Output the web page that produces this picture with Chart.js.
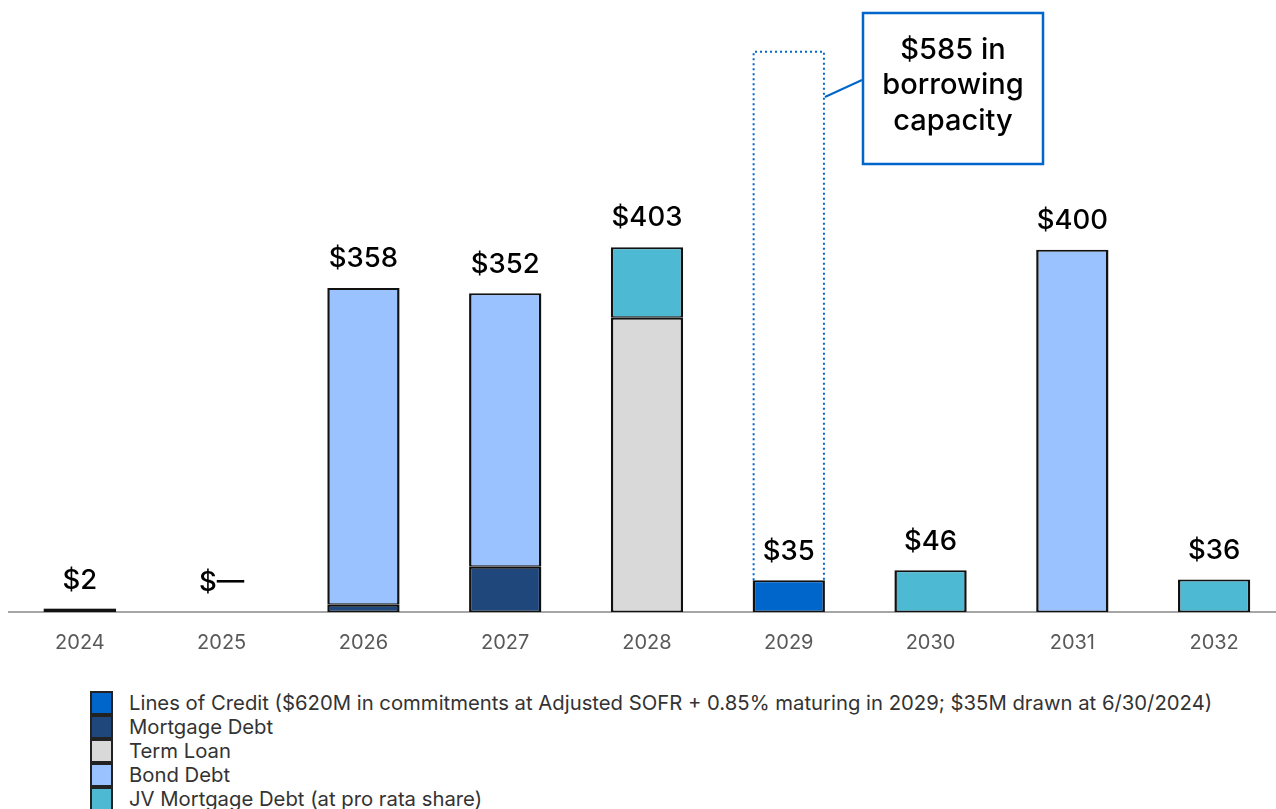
<!DOCTYPE html>
<html>
<head>
<meta charset="utf-8">
<script src="https://cdn.jsdelivr.net/npm/chart.js@4.4.1/dist/chart.umd.min.js"></script>
<style>
  html, body { margin:0; padding:0; background:#fff; overflow:hidden; }
  body { width:1276px; height:809px; position:relative; font-family:Inter, "Open Sans", sans-serif; }
  #wrap { position:absolute; left:0; top:0; width:1286px; height:680px; }
  #legend { position:absolute; left:90px; top:691px; margin:0; padding:0; list-style:none; }
  #legend li { height:24px; line-height:24px; font-size:20.3px; color:#333; position:relative; padding-left:39px; white-space:nowrap; }
  #legend li span { position:absolute; left:0; top:0; width:19px; height:20px; border:2px solid #222; }
</style>
</head>
<body>
<div id="wrap"><canvas id="chart" width="1286" height="680"></canvas></div>
<ul id="legend"></ul>
<script>
// categories
const years = ['2024','2025','2026','2027','2028','2029','2030','2031','2032'];
// series values ($M)
const linesOfCredit = [0, 0, 0, 0, 0, 35, 0, 0, 0];
const mortgageDebt  = [2, 0, 8, 50, 0, 0, 0, 0, 0];
const termLoan      = [0, 0, 0, 0, 325, 0, 0, 0, 0];
const bondDebt      = [0, 0, 350, 302, 0, 0, 0, 400, 0];
const jvMortgage    = [0, 0, 0, 0, 78, 0, 46, 0, 36];
const capacity      = [0, 0, 0, 0, 0, 585, 0, 0, 0];
// total labels shown above each bar
const totalLabels = ['$2', '$\u2014', '$358', '$352', '$403', '$35', '$46', '$400', '$36'];

const seriesNames = [
    'Lines of Credit ($620M in commitments at Adjusted SOFR + 0.85% maturing in 2029; $35M drawn at 6/30/2024)',
    'Mortgage Debt',
    'Term Loan',
    'Bond Debt',
    'JV Mortgage Debt (at pro rata share)'
];
const seriesColors = ['#0066cc', '#1f477b', '#d9d9d9', '#99c2ff', '#4db9d3'];
const seriesData = [linesOfCredit, mortgageDebt, termLoan, bondDebt, jvMortgage];

const datasets = seriesData.map((d, i) => ({
    label: seriesNames[i],
    data: d.map(v => v === 0 ? null : v),
    backgroundColor: seriesColors[i],
    borderColor: '#111',
    borderWidth: {left: 2.5, right: 2.5, top: 2, bottom: 1.5},
    borderSkipped: false,
    barPercentage: 0.51,
    categoryPercentage: 1
}));
datasets.push({
    label: 'capacity',
    data: capacity.map(v => v === 0 ? null : v),
    backgroundColor: 'rgba(0,0,0,0)',
    borderWidth: 0,
    barPercentage: 0.51,
    categoryPercentage: 1
});

// totals above bars + dotted capacity box + callout
const extras = {
    id: 'extras',
    afterDatasetsDraw(chart) {
        const ctx = chart.ctx;
        const x = chart.scales.x, y = chart.scales.y;

        // 2024 sliver: keep it visible as a thick dark line
        const m24 = chart.getDatasetMeta(1).data[0];
        if (m24) {
            const p = m24.getProps(['x','y','base','width'], true);
            ctx.save();
            ctx.fillStyle = '#111';
            ctx.fillRect(p.x - p.width/2, p.y - 1.5, p.width, p.base - p.y + 1.5);
            ctx.restore();
        }

        // dotted box for borrowing capacity
        const meta = chart.getDatasetMeta(datasets.length - 1);
        meta.data.forEach((el, i) => {
            if (!capacity[i]) return;
            const p = el.getProps(['x','y','base','width'], true);
            ctx.save();
            ctx.strokeStyle = '#0066cc';
            ctx.lineWidth = 2;
            ctx.setLineDash([2, 3]);
            ctx.beginPath();
            ctx.moveTo(p.x - p.width/2 + 1, p.base);
            ctx.lineTo(p.x - p.width/2 + 1, p.y + 1);
            ctx.lineTo(p.x + p.width/2 - 1, p.y + 1);
            ctx.lineTo(p.x + p.width/2 - 1, p.base);
            ctx.stroke();
            ctx.restore();

            // connector to callout box
            ctx.save();
            ctx.strokeStyle = '#0066cc';
            ctx.lineWidth = 2;
            ctx.beginPath();
            ctx.moveTo(p.x + p.width/2, 97);
            ctx.lineTo(862, 80);
            ctx.stroke();
            ctx.restore();
        });

        // callout box
        ctx.save();
        ctx.strokeStyle = '#0066cc';
        ctx.lineWidth = 2.5;
        ctx.strokeRect(863, 13, 180, 151);
        ctx.fillStyle = '#000';
        ctx.font = '500 29px Inter, sans-serif';
        ctx.textAlign = 'center';
        ctx.textBaseline = 'middle';
        ['$585 in', 'borrowing', 'capacity'].forEach((t, k) => ctx.fillText(t, 953, 50 + k*35.5));
        ctx.restore();

        // totals
        ctx.save();
        ctx.fillStyle = '#000';
        ctx.font = '500 27.5px Inter, sans-serif';
        ctx.textAlign = 'center';
        ctx.textBaseline = 'middle';
        years.forEach((yr, i) => {
            const total = seriesData.reduce((s, d) => s + d[i], 0);
            ctx.fillText(totalLabels[i], x.getPixelForValue(i), y.getPixelForValue(total) - 29);
        });
        ctx.restore();
    }
};

new Chart(document.getElementById('chart'), {
    type: 'bar',
    data: { labels: years, datasets: datasets },
    options: {
        responsive: false,
        animation: false,
        layout: { padding: { left: 9, right: 1, top: 0, bottom: 0 } },
        plugins: { legend: { display: false }, tooltip: { enabled: false } },
        scales: {
            x: {
                stacked: true,
                grid: { display: false, drawTicks: false },
                border: { display: true, color: '#a6a6a6', width: 2 },
                ticks: { color: '#595959', font: { size: 20, family: 'Inter' }, padding: 19 },
                afterFit: s => { s.height = 68; }
            },
            y: {
                stacked: true,
                display: false,
                min: 0,
                max: 676
            }
        }
    },
    plugins: [extras]
});

// legend
const legend = document.getElementById('legend');
seriesNames.forEach((n, i) => {
    const li = document.createElement('li');
    li.innerHTML = '<span style="background:' + seriesColors[i] + '"></span>' + n;
    legend.appendChild(li);
});
</script>
</body>
</html>
